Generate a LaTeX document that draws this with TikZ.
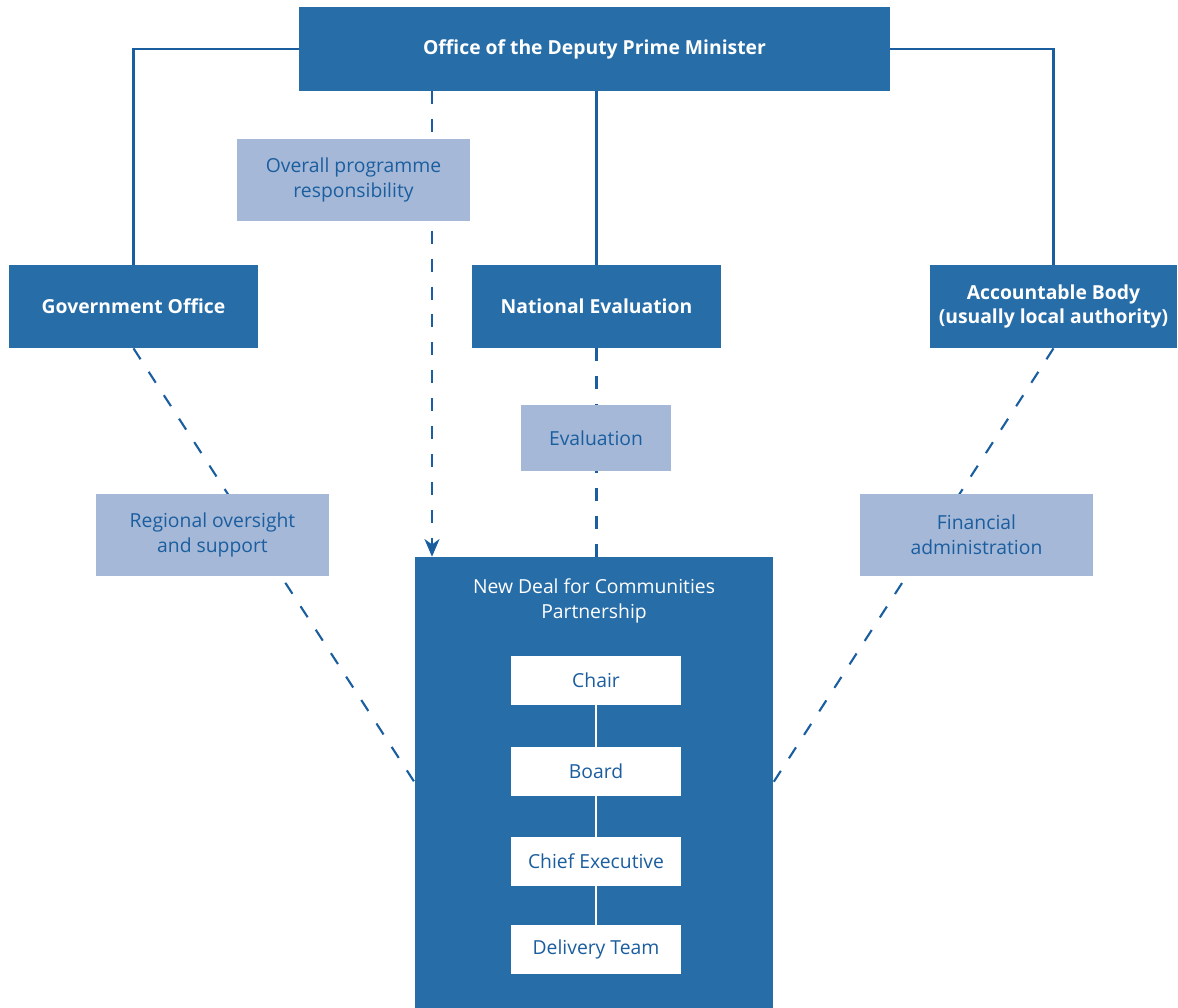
\documentclass[tikz,border=0pt]{standalone}
\usepackage{fontspec}
\setmainfont{Open Sans}
\usetikzlibrary{arrows.meta}
\definecolor{deepblue}{HTML}{276DA8}
\definecolor{paleblue}{HTML}{A5B8D7}
\definecolor{linkblue}{HTML}{1B5E9F}
\tikzset{
  headbox/.style={fill=deepblue, text=white, font=\fontsize{11}{14}\selectfont\bfseries,
    align=center, inner sep=0pt, minimum width=4.98cm, minimum height=1.66cm},
  rolebox/.style={fill=paleblue, text=linkblue, font=\fontsize{11}{14}\selectfont,
    align=center, inner sep=0pt, minimum width=4.66cm, minimum height=1.64cm},
  stagebox/.style={fill=white, text=linkblue, font=\fontsize{11}{14}\selectfont,
    align=center, inner sep=0pt, minimum width=3.42cm, minimum height=0.98cm},
  link/.style={draw=linkblue, line width=1.2pt},
  dashlink/.style={link, dash pattern=on 7.4pt off 8.5pt},
}
\begin{document}
\begin{tikzpicture}[x=0.02cm, y=-0.02cm]
  \useasboundingbox (0,0) rectangle (1178,1008);
  \node[headbox, minimum width=11.82cm, minimum height=1.68cm] (odpm) at (594.5,49) {Office of the Deputy Prime Minister};
  \node[headbox] (govoff) at (133.5,306.5) {Government Office};
  \node[headbox] (nateval) at (596.5,306.5) {National Evaluation};
  \node[headbox, minimum width=4.94cm] (accbody) at (1053.5,306.5) {Accountable Body\\(usually local authority)};
  \node[fill=deepblue, inner sep=0pt, minimum width=7.16cm, minimum height=9.02cm] (ndc) at (594,782.5) {};
  \node[text=white, align=center, font=\fontsize{11}{14}\selectfont] (ndctitle) at (594,601) {New Deal for Communities\\Partnership};
  \node[stagebox] (chair) at (596,680.5) {Chair};
  \node[stagebox] (board) at (596,771.5) {Board};
  \node[stagebox] (chief) at (596,861.5) {Chief Executive};
  \node[stagebox] (delivery) at (596,949.5) {Delivery Team};
  \coordinate (resp) at (432,91);
  % solid lines from the top
  \draw[link] (odpm.west) -| (govoff.north);
  \draw[link] (odpm.east) -| (accbody.north);
  \draw[link] (nateval.north |- odpm.south) -- (nateval.north);
  % dashed lines to the partnership
  \draw[dashlink, -{Stealth[length=10pt, width=8.5pt, inset=3pt]}] (resp) -- (resp |- ndc.north);
  \draw[dashlink] (nateval.south) -- (nateval.south |- ndc.north);
  \draw[dashlink] (govoff.south) -- (ndc.west);
  \draw[dashlink] (accbody.south) -- (ndc.east);
  \draw[white, line width=1.2pt] (chair) -- (board) (board) -- (chief) (chief) -- (delivery);
  \node[stagebox] at (chair) {Chair};
  \node[stagebox] at (board) {Board};
  \node[stagebox] at (chief) {Chief Executive};
  \node[stagebox] at (delivery) {Delivery Team};
  \node[rolebox] (overall) at (353.5,180) {Overall programme\\responsibility};
  \node[rolebox, minimum width=3cm, minimum height=1.32cm] (evaluation) at (596,438) {Evaluation};
  \node[rolebox] (regional) at (212.5,535) {Regional oversight\\and support};
  \node[rolebox] (financial) at (976.5,535) {Financial\\administration};
\end{tikzpicture}
\end{document}
